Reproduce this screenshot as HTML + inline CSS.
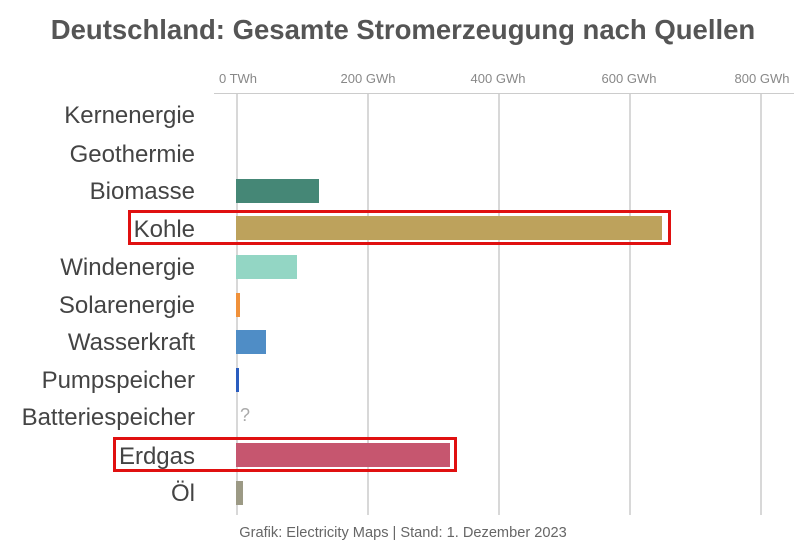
<!DOCTYPE html>
<html><head><meta charset="utf-8"><style>
body{margin:0;width:806px;height:551px;background:#fff;position:relative;overflow:hidden;font-family:"Liberation Sans",sans-serif}
.t{position:absolute;left:0;width:806px;text-align:center;top:14px;font-size:27.5px;font-weight:bold;color:#555;white-space:nowrap}
.tk{position:absolute;top:71px;font-size:13px;color:#888;transform:translateX(-50%);white-space:nowrap}
.g{position:absolute;top:94px;height:421px;width:1.5px;background:#d8d8d8}
.l{position:absolute;right:611px;font-size:24px;color:#444;transform:translateY(-50%);white-space:nowrap}
.b{position:absolute;left:236px;height:24px}
.r{position:absolute;border:3px solid #e01010;box-sizing:border-box}
.f{position:absolute;top:525px;left:0;width:806px;text-align:center;font-size:14.6px;color:#666;white-space:nowrap}
</style></head><body>
<div class="t">Deutschland: Gesamte Stromerzeugung nach Quellen</div>
<div class="tk" style="left:238px">0 TWh</div>
<div class="tk" style="left:368px">200 GWh</div>
<div class="tk" style="left:498px">400 GWh</div>
<div class="tk" style="left:629px">600 GWh</div>
<div class="tk" style="left:762px">800 GWh</div>
<div style="position:absolute;left:214px;top:93px;width:580px;height:1px;background:#ccc"></div>
<div class="g" style="left:236px"></div><div class="g" style="left:367px"></div><div class="g" style="left:498px"></div><div class="g" style="left:629px"></div><div class="g" style="left:760px"></div>
<div class="l" style="top:116px">Kernenergie</div>
<div class="l" style="top:155px">Geothermie</div>
<div class="l" style="top:192px">Biomasse</div>
<div class="l" style="top:230px">Kohle</div>
<div class="l" style="top:268px">Windenergie</div>
<div class="l" style="top:306px">Solarenergie</div>
<div class="l" style="top:343px">Wasserkraft</div>
<div class="l" style="top:381px">Pumpspeicher</div>
<div class="l" style="top:418px">Batteriespeicher</div>
<div class="l" style="top:457px">Erdgas</div>
<div class="l" style="top:494px">Öl</div>
<div class="b" style="top:179px;width:83px;background:#458776"></div>
<div class="b" style="top:216px;width:426px;background:#bda25c"></div>
<div class="b" style="top:255px;width:61px;background:#93d6c4"></div>
<div class="b" style="top:293px;width:4px;background:#f0913a"></div>
<div class="b" style="top:330px;width:30px;background:#4f8dc6"></div>
<div class="b" style="top:368px;width:3px;background:#2a5dbf"></div>
<div style="position:absolute;left:240px;top:405px;font-size:18px;color:#aaa">?</div>
<div class="b" style="top:443px;width:214px;background:#c6566f"></div>
<div class="b" style="top:481px;width:7px;background:#9c9a85"></div>
<div class="r" style="left:128px;top:210px;width:543px;height:35px"></div>
<div class="r" style="left:113px;top:437px;width:344px;height:35px"></div>
<div class="f">Grafik: Electricity Maps | Stand: 1. Dezember 2023</div>
</body></html>
